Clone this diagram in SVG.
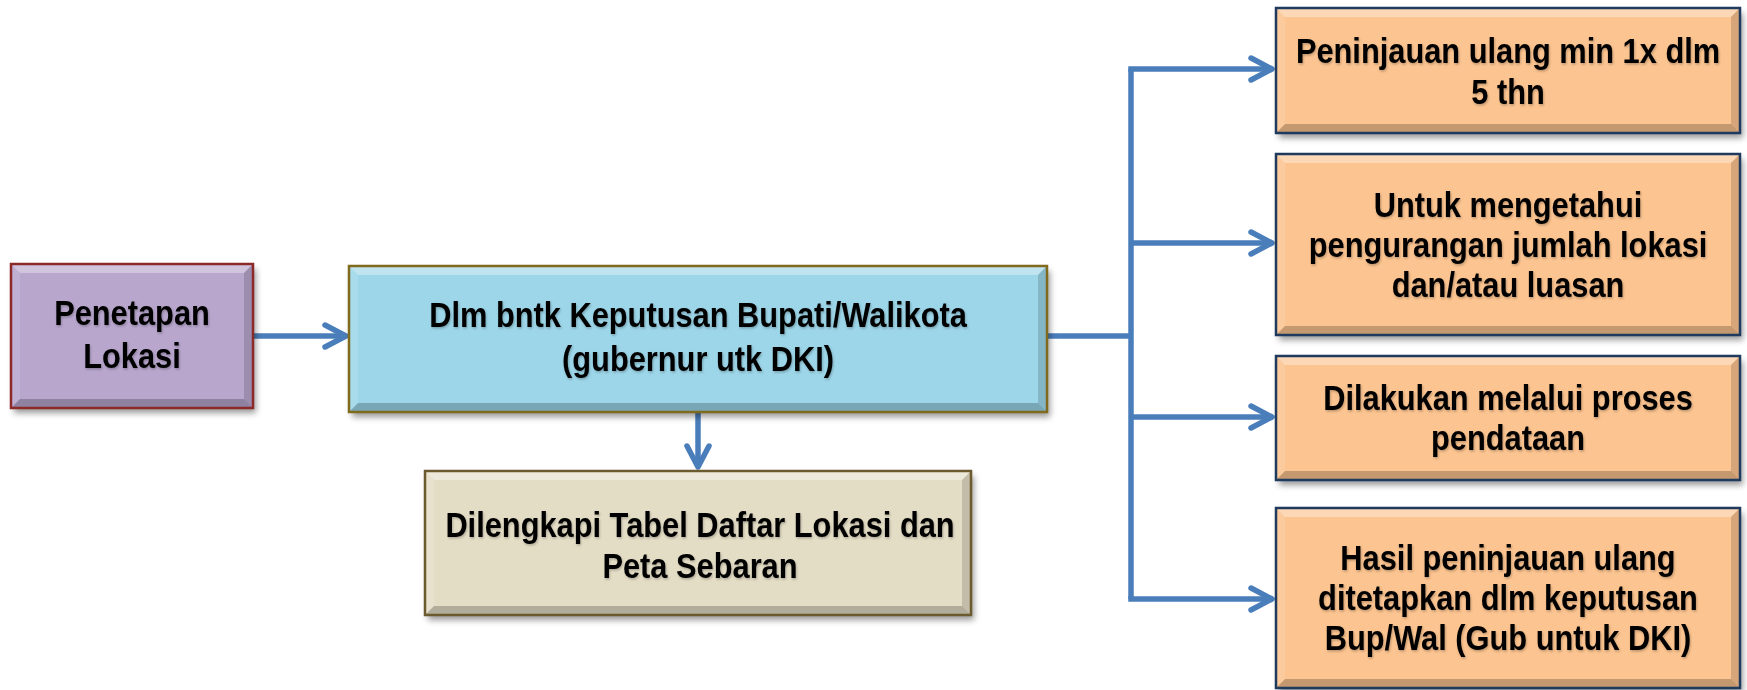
<svg xmlns="http://www.w3.org/2000/svg" width="1747" height="690" viewBox="0 0 1747 690">
<defs>
<filter id="sh" x="-10%" y="-10%" width="120%" height="130%">
<feDropShadow dx="3" dy="5" stdDeviation="3" flood-color="#000" flood-opacity="0.4"/>
</filter>
<filter id="ts" x="-5%" y="-20%" width="110%" height="140%">
<feDropShadow dx="1" dy="1.5" stdDeviation="1" flood-color="#000" flood-opacity="0.25"/>
</filter>
<marker id="ah" viewBox="0 0 30 30" markerUnits="userSpaceOnUse" markerWidth="30" markerHeight="30" refX="26" refY="15" orient="auto">
<path d="M5,4 L26,15 L5,26" fill="none" stroke="#4A7EBB" stroke-width="5.5" stroke-linecap="round" stroke-linejoin="round"/>
</marker>
</defs>
<style>
.bt{fill:#fff;fill-opacity:.35}
.bb{fill:#000;fill-opacity:.22}
.bl{fill:#fff;fill-opacity:.12}
.br{fill:#000;fill-opacity:.15}
.base{filter:url(#sh)}
.edge{fill:none;stroke-width:2.5}
.t{font-family:"Liberation Sans",Arial,sans-serif;font-weight:bold;font-size:35px;fill:#000;text-anchor:middle;filter:url(#ts)}
.c{fill:none;stroke:#4A7EBB;stroke-width:5.5}
.a{marker-end:url(#ah)}
</style>
<rect width="1747" height="690" fill="#fff"/>
<g id="connectors">
<path class="c a" d="M254,336 H346"/>
<path class="c" d="M1047,336 H1131"/>
<path class="c" d="M1131,69 V599"/>
<path class="c a" d="M1128.25,69 H1272"/>
<path class="c a" d="M1131,243 H1272"/>
<path class="c a" d="M1131,417 H1272"/>
<path class="c a" d="M1128.25,599 H1272"/>
<path class="c a" d="M698,412 V467"/>
</g>
<g id="n1">
<rect class="base" x="11" y="264" width="242" height="144" fill="#B8A6CD"/>
<polygon class="bt" points="11,264 253,264 244,273 20,273"/>
<polygon class="bb" points="11,408 253,408 244,399 20,399"/>
<polygon class="bl" points="11,264 20,273 20,399 11,408"/>
<polygon class="br" points="253,264 244,273 244,399 253,408"/>
<rect class="edge" x="11" y="264" width="242" height="144" stroke="#8C2A2A"/>
<text class="t" transform="translate(132 0) scale(0.88 1)"><tspan x="0" y="325">Penetapan</tspan><tspan x="0" y="368">Lokasi</tspan></text>
</g>
<g id="n2">
<rect class="base" x="349" y="266" width="698" height="146" fill="#9DD6E9"/>
<polygon class="bt" points="349,266 1047,266 1038,275 358,275"/>
<polygon class="bb" points="349,412 1047,412 1038,403 358,403"/>
<polygon class="bl" points="349,266 358,275 358,403 349,412"/>
<polygon class="br" points="1047,266 1038,275 1038,403 1047,412"/>
<rect class="edge" x="349" y="266" width="698" height="146" stroke="#7F6A1E"/>
<text class="t" transform="translate(698 0) scale(0.88 1)"><tspan x="0" y="327">Dlm bntk Keputusan Bupati/Walikota</tspan><tspan x="0" y="371">(gubernur utk DKI)</tspan></text>
</g>
<g id="n3">
<rect class="base" x="425" y="471" width="546" height="144" fill="#E4DDC6"/>
<polygon class="bt" points="425,471 971,471 962,480 434,480"/>
<polygon class="bb" points="425,615 971,615 962,606 434,606"/>
<polygon class="bl" points="425,471 434,480 434,606 425,615"/>
<polygon class="br" points="971,471 962,480 962,606 971,615"/>
<rect class="edge" x="425" y="471" width="546" height="144" stroke="#6B5A2E"/>
<text class="t" transform="translate(700 0) scale(0.88 1)"><tspan x="0" y="537">Dilengkapi Tabel Daftar Lokasi dan</tspan><tspan x="0" y="578">Peta Sebaran</tspan></text>
</g>
<g id="n4">
<rect class="base" x="1276" y="8" width="464" height="125" fill="#FCC490"/>
<polygon class="bt" points="1276,8 1740,8 1731,17 1285,17"/>
<polygon class="bb" points="1276,133 1740,133 1731,124 1285,124"/>
<polygon class="bl" points="1276,8 1285,17 1285,124 1276,133"/>
<polygon class="br" points="1740,8 1731,17 1731,124 1740,133"/>
<rect class="edge" x="1276" y="8" width="464" height="125" stroke="#1F3A5F"/>
<text class="t" transform="translate(1508 0) scale(0.88 1)"><tspan x="0" y="63">Peninjauan ulang min 1x dlm</tspan><tspan x="0" y="104">5 thn</tspan></text>
</g>
<g id="n5">
<rect class="base" x="1276" y="154" width="464" height="181" fill="#FCC490"/>
<polygon class="bt" points="1276,154 1740,154 1731,163 1285,163"/>
<polygon class="bb" points="1276,335 1740,335 1731,326 1285,326"/>
<polygon class="bl" points="1276,154 1285,163 1285,326 1276,335"/>
<polygon class="br" points="1740,154 1731,163 1731,326 1740,335"/>
<rect class="edge" x="1276" y="154" width="464" height="181" stroke="#1F3A5F"/>
<text class="t" transform="translate(1508 0) scale(0.88 1)"><tspan x="0" y="217">Untuk mengetahui</tspan><tspan x="0" y="257">pengurangan jumlah lokasi</tspan><tspan x="0" y="297">dan/atau luasan</tspan></text>
</g>
<g id="n6">
<rect class="base" x="1276" y="356" width="464" height="124" fill="#FCC490"/>
<polygon class="bt" points="1276,356 1740,356 1731,365 1285,365"/>
<polygon class="bb" points="1276,480 1740,480 1731,471 1285,471"/>
<polygon class="bl" points="1276,356 1285,365 1285,471 1276,480"/>
<polygon class="br" points="1740,356 1731,365 1731,471 1740,480"/>
<rect class="edge" x="1276" y="356" width="464" height="124" stroke="#1F3A5F"/>
<text class="t" transform="translate(1508 0) scale(0.88 1)"><tspan x="0" y="410">Dilakukan melalui proses</tspan><tspan x="0" y="450">pendataan</tspan></text>
</g>
<g id="n7">
<rect class="base" x="1276" y="508" width="464" height="180" fill="#FCC490"/>
<polygon class="bt" points="1276,508 1740,508 1731,517 1285,517"/>
<polygon class="bb" points="1276,688 1740,688 1731,679 1285,679"/>
<polygon class="bl" points="1276,508 1285,517 1285,679 1276,688"/>
<polygon class="br" points="1740,508 1731,517 1731,679 1740,688"/>
<rect class="edge" x="1276" y="508" width="464" height="180" stroke="#1F3A5F"/>
<text class="t" transform="translate(1508 0) scale(0.88 1)"><tspan x="0" y="570">Hasil peninjauan ulang</tspan><tspan x="0" y="610">ditetapkan dlm keputusan</tspan><tspan x="0" y="650">Bup/Wal (Gub untuk DKI)</tspan></text>
</g>
</svg>
